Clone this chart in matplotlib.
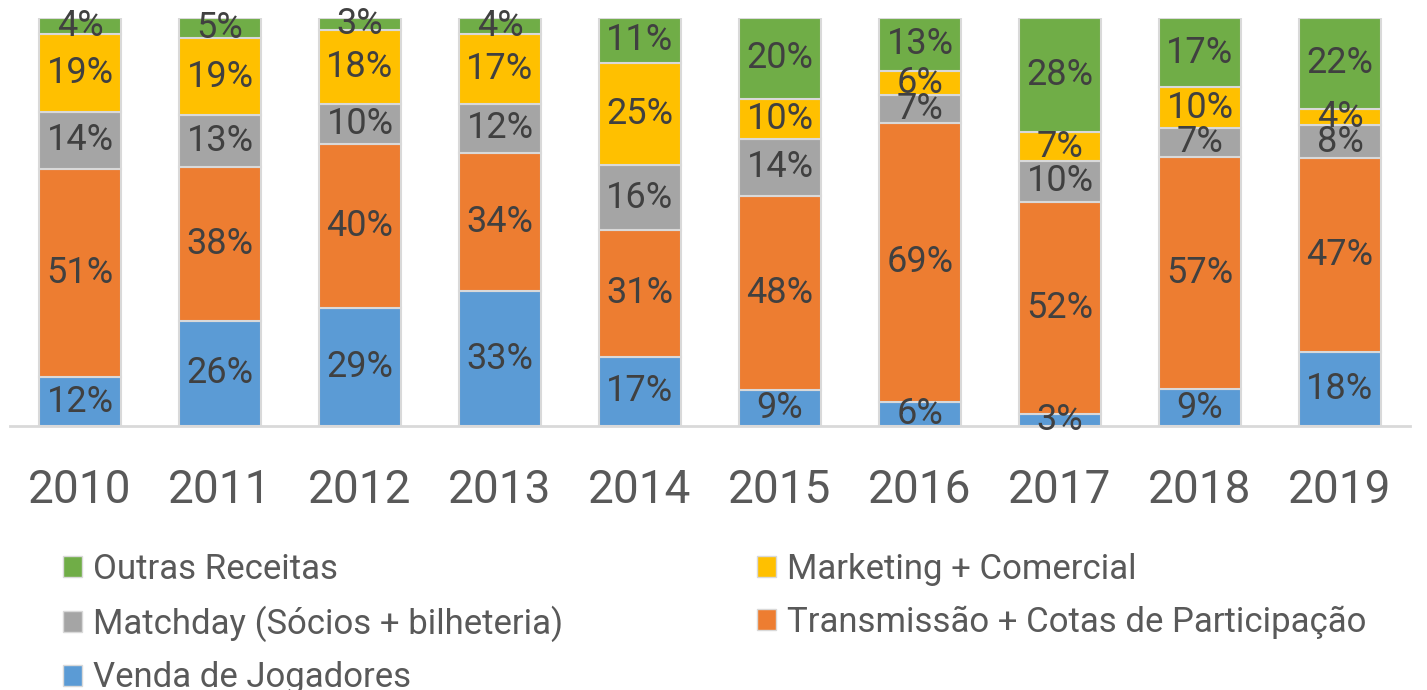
import matplotlib
matplotlib.use("Agg")
import matplotlib.pyplot as plt
import matplotlib.patches as mpatches
import numpy as np

plt.rcParams['font.family'] = ['Roboto', 'DejaVu Sans']

years = ['2010', '2011', '2012', '2013', '2014', '2015', '2016', '2017', '2018', '2019']
venda = [12, 26, 29, 33, 17, 9, 6, 3, 9, 18]
transmissao = [51, 38, 40, 34, 31, 48, 69, 52, 57, 47]
matchday = [14, 13, 10, 12, 16, 14, 7, 10, 7, 8]
marketing = [19, 19, 18, 17, 25, 10, 6, 7, 10, 4]
outras = [4, 5, 3, 4, 11, 20, 13, 28, 17, 22]

series = [
    ('Venda de Jogadores', venda, '#5B9BD5'),
    ('Transmissão + Cotas de Participação', transmissao, '#ED7D31'),
    ('Matchday (Sócios + bilheteria)', matchday, '#A5A5A5'),
    ('Marketing + Comercial', marketing, '#FFC000'),
    ('Outras Receitas', outras, '#70AD47'),
]

W, H = 1427, 690
fig = plt.figure(figsize=(W / 100, H / 100), dpi=100)
ax = fig.add_axes([10 / W, 1 - 426 / H, 1400 / W, (426 - 18) / H])

x = np.arange(len(years))
totals = np.sum([s[1] for s in series], axis=0).astype(float)
bottom = np.zeros(len(years))
handles = {}
for name, vals, col in series:
    v = np.array(vals, dtype=float) / totals * 100
    ax.bar(x, v, 0.586, bottom=bottom, color=col, edgecolor='#d9d9d9',
           linewidth=1.5, label=name, zorder=2)
    handles[name] = mpatches.Patch(facecolor=col, edgecolor='#d9d9d9', linewidth=1.0)
    for xi, b, vi, lab in zip(x, bottom, v, vals):
        ax.text(xi, b + vi / 2, f'{lab}%', ha='center', va='center',
                fontsize=26, color='#404040', clip_on=False, zorder=3)
    bottom += v

ax.set_xlim(-0.5, 9.5)
ax.set_ylim(0, 100)
ax.set_xticks(x)
ax.set_xticklabels(years, fontsize=33, color='#595959')
ax.tick_params(axis='x', length=0, pad=30)
ax.set_yticks([])
for s in ['top', 'right', 'left']:
    ax.spines[s].set_visible(False)
ax.spines['bottom'].set_color('#d9d9d9')
ax.spines['bottom'].set_linewidth(2)
ax.spines['bottom'].set_zorder(1)

col1 = ['Outras Receitas', 'Matchday (Sócios + bilheteria)', 'Venda de Jogadores']
col2 = ['Marketing + Comercial', 'Transmissão + Cotas de Participação']
common = dict(frameon=False, fontsize=25, handlelength=0.55, handleheight=0.55,
              handletextpad=0.3, labelspacing=0.56, borderpad=0, borderaxespad=0,
              labelcolor='#595959', loc='upper left')
leg1 = fig.legend([handles[n] for n in col1], col1,
                  bbox_to_anchor=(63 / W, 1 - 553 / H), **common)
leg2 = fig.legend([handles[n] for n in col2], col2,
                  bbox_to_anchor=(757 / W, 1 - 553 / H), **common)

fig.savefig('out.png', dpi=100)
